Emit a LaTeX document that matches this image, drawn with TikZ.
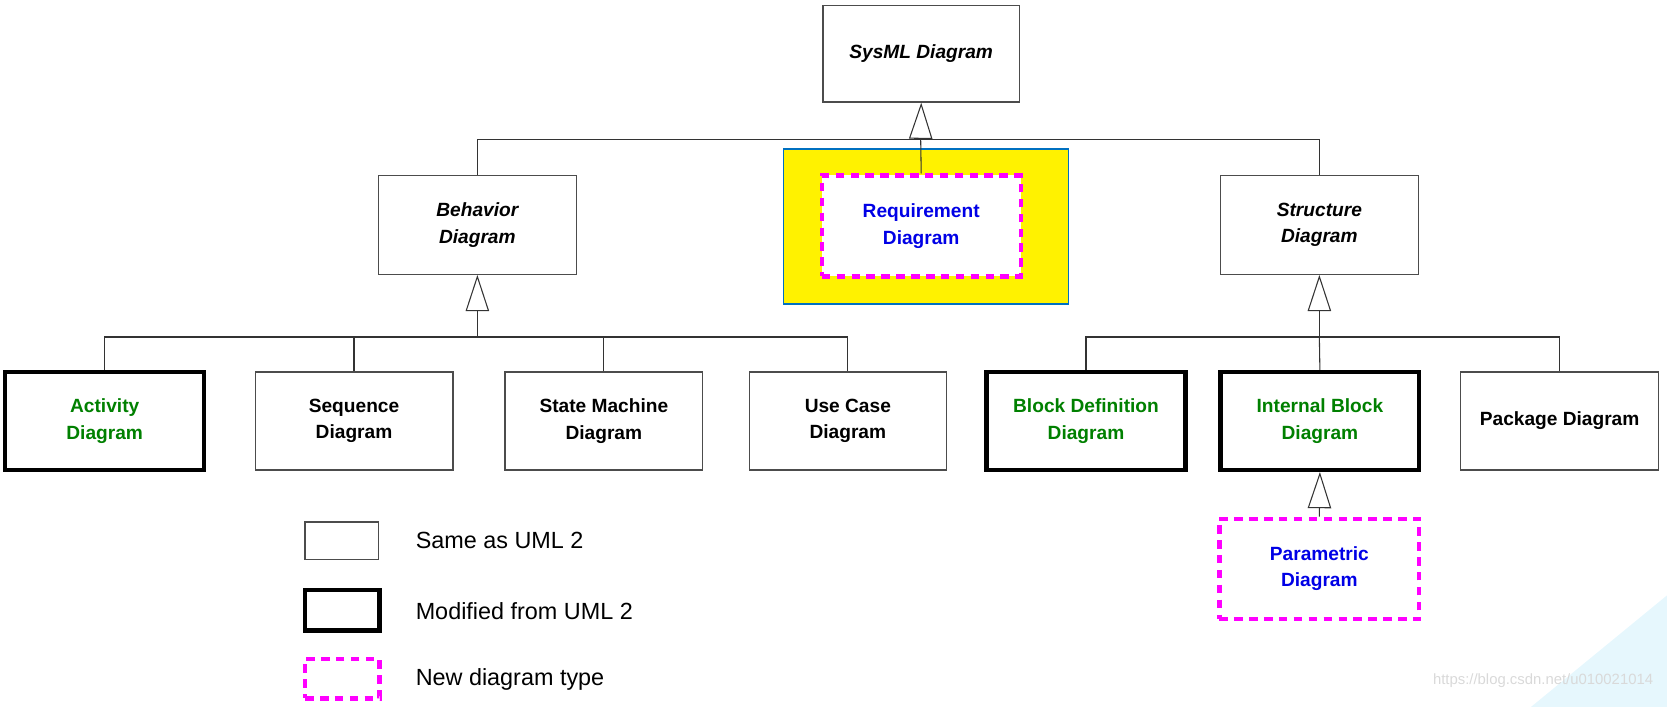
\documentclass[tikz,border=0pt]{standalone}
\usepackage{fontspec}
\setmainfont{Liberation Sans}
\usetikzlibrary{arrows.meta}
\definecolor{mag}{RGB}{255,0,255}
\definecolor{dgreen}{RGB}{0,128,0}
\definecolor{dblue}{RGB}{0,0,230}
\begin{document}
\begin{tikzpicture}[x=0.5pt,y=-0.5pt,
  box/.style={draw=black!70,line width=0.6pt,fill=white,inner sep=0pt,align=center,font=\fontsize{9}{12.5}\selectfont\bfseries},
  thick box/.style={box,draw=black,line width=2pt},
  new box/.style={box,draw=mag,line width=2pt,dash pattern=on 4pt off 3pt},
  conn/.style={draw=black!80,line width=0.5pt},
  gen/.style={conn,-{Triangle[open,width=11pt,length=17pt,fill=white]}},
  legtext/.style={anchor=west,font=\fontsize{11}{13}\selectfont}]
\useasboundingbox (0,0) rectangle (1568,665);
% watermark
\fill[cyan!10] (1568,560) -- (1568,665) -- (1440,665) -- cycle;
\node[anchor=east,text=black!15,font=\fontsize{7}{8}\selectfont] (wm) at (1562,640) {https://blog.csdn.net/u010021014};
% top
\node[box,minimum width=92.5pt,minimum height=45.5pt,font=\fontsize{9}{12}\selectfont\bfseries\itshape] (sys) at (866.5,50.5) {SysML Diagram};
\node[draw={rgb,255:red,0;green,112;blue,192},line width=0.8pt,fill=yellow,minimum width=134pt,minimum height=73pt,inner sep=0pt] (reqbg) at (871,213) {};
\node[new box,minimum width=93.5pt,minimum height=47.5pt,text=dblue] (req) at (866.5,212.5) {Requirement\\Diagram};
\node[box,minimum width=93pt,minimum height=46.5pt,font=\fontsize{9}{12.5}\selectfont\bfseries\itshape] (beh) at (449,211.5) {Behavior\\Diagram};
\node[box,minimum width=93pt,minimum height=46.5pt,font=\fontsize{9}{12.5}\selectfont\bfseries\itshape] (str) at (1241,211.5) {Structure\\Diagram};
% children
\node[thick box,minimum width=93.5pt,minimum height=46pt,text=dgreen] (act) at (98.5,396) {Activity\\Diagram};
\node[box,minimum width=93pt,minimum height=46pt] (seq) at (333,396) {Sequence\\Diagram};
\node[box,minimum width=93pt,minimum height=46pt] (stm) at (568,396) {State Machine\\Diagram};
\node[box,minimum width=92.5pt,minimum height=46pt] (uc) at (797.5,396) {Use Case\\Diagram};
\node[thick box,minimum width=93.5pt,minimum height=46pt,text=dgreen] (bdd) at (1021.5,396) {Block Definition\\Diagram};
\node[thick box,minimum width=93.5pt,minimum height=46pt,text=dgreen] (ibd) at (1241.5,396) {Internal Block\\Diagram};
\node[box,minimum width=93pt,minimum height=46pt] (pkg) at (1467,396) {Package Diagram};
\node[new box,minimum width=94pt,minimum height=47pt,text=dblue] (par) at (1241,535) {Parametric\\Diagram};
% connectors
\coordinate (j1) at (866,131);
\draw[conn] (beh.north) |- (j1) -| (str.north);
\draw[conn] (req.north) -- (j1);
\draw[gen] (j1) -- (sys.south);
\coordinate (j2) at (449,317);
\draw[conn] (act.north) |- (j2) -| (uc.north);
\draw[conn] (seq.north) -- (seq.north |- j2);
\draw[conn] (stm.north) -- (stm.north |- j2);
\draw[gen] (j2) -- (beh.south);
\coordinate (j3) at (1241,317);
\draw[conn] (bdd.north) |- (j3) -| (pkg.north);
\draw[conn] (ibd.north) -- (j3);
\draw[gen] (j3) -- (str.south);
\draw[gen] (par.north) -- (ibd.south);
% legend
\node[box,minimum width=34.5pt,minimum height=17.5pt] (l1) at (321.5,508.5) {};
\node[thick box,minimum width=35pt,minimum height=19pt] (l2) at (322,574) {};
\node[new box,minimum width=35pt,minimum height=18.5pt] (l3) at (322,638.5) {};
\node[legtext] (t1) at (384,508) {Same as UML 2};
\node[legtext] (t2) at (384,575) {Modified from UML 2};
\node[legtext] (t3) at (384,639) {New diagram type};
\end{tikzpicture}
\end{document}
